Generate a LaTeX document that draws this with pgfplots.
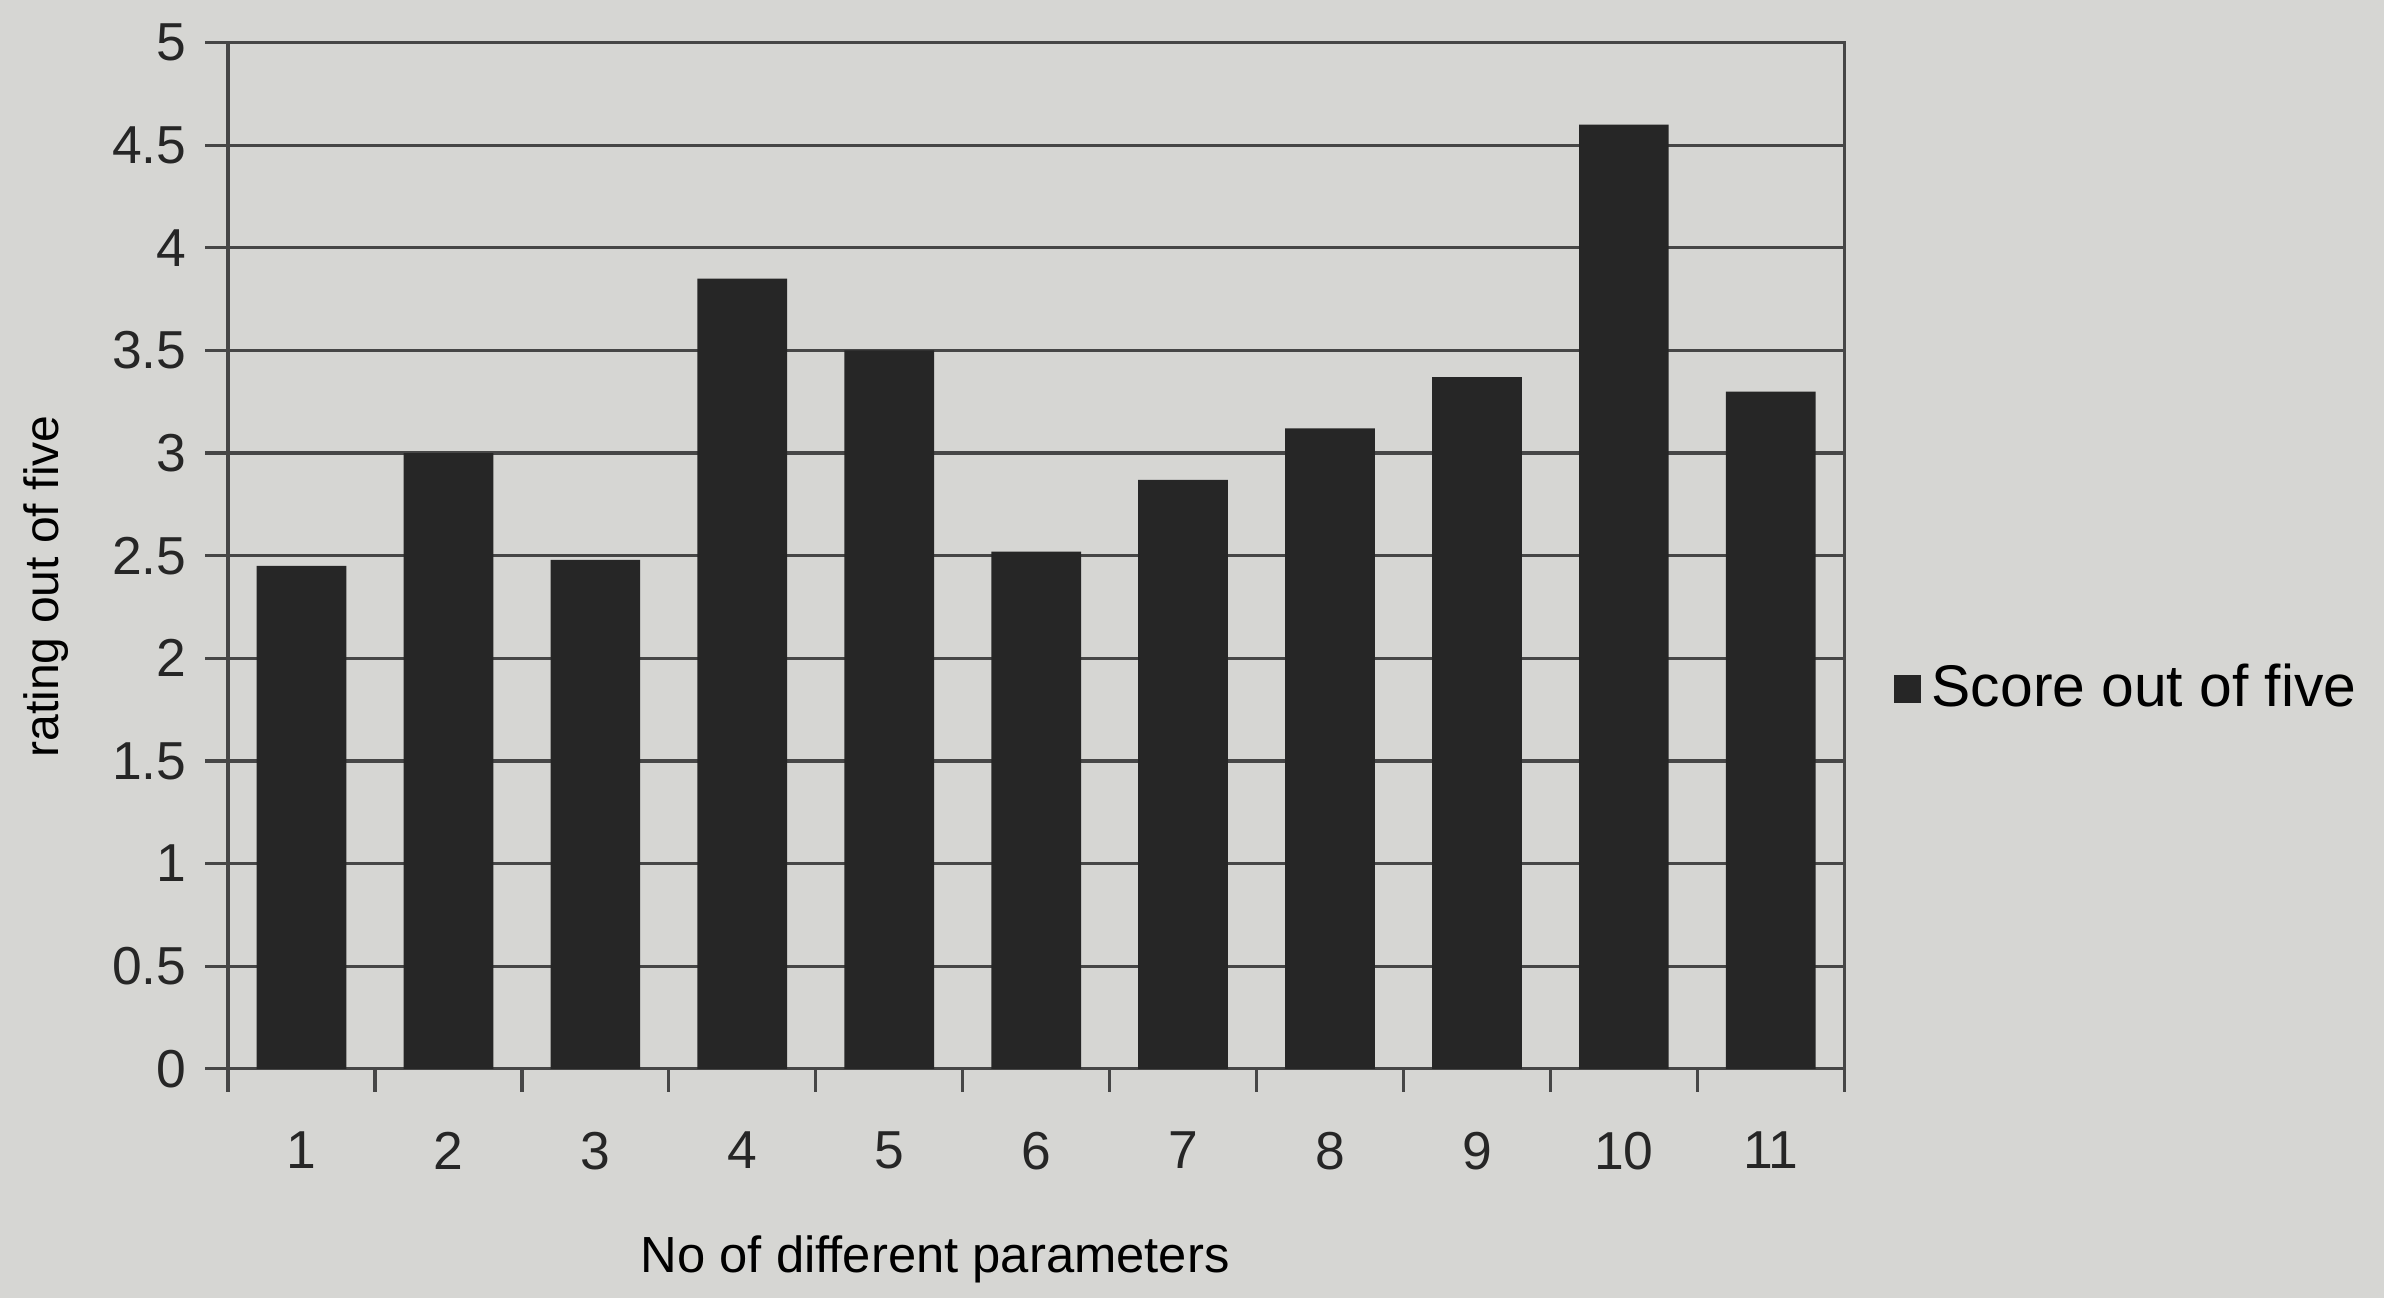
\documentclass[border=0pt]{standalone}
\usepackage{fontspec}
\setmainfont{Liberation Sans}
\usepackage{pgfplots}
\pgfplotsset{compat=1.18}
\definecolor{paper}{RGB}{214,214,211}
\definecolor{barcol}{RGB}{38,38,38}
\definecolor{gridcol}{RGB}{70,70,70}
\begin{document}
\begin{tikzpicture}
\useasboundingbox[fill=paper] (-1.5cm,-1.51cm) rectangle (14.18cm,7.03cm);
\begin{axis}[
  at={(0,0)}, anchor=south west,
  scale only axis, width=10.63cm, height=6.75cm,
  ybar, bar width=0.59cm,
  xmin=0.5, xmax=11.5, ymin=0, ymax=5,
  ytick={0,0.5,...,5},
  ymajorgrids, grid style={gridcol, line width=0.6pt},
  axis line style={gridcol, line width=0.6pt},
  xtick={1,...,11},
  minor xtick={0.5,1.5,...,11.5},
  major x tick style={draw=none},
  minor x tick style={gridcol, line width=0.6pt},
  y tick style={gridcol, line width=0.6pt},
  tick align=outside, tick pos=left,
  major tick length=0.15cm, minor tick length=0.15cm,
  /pgf/number format/assume math mode=true,
  yticklabel style={/pgf/number format/fixed, font=\fontsize{10}{12}\selectfont, text=black!85},
  xticklabel style={font=\fontsize{10}{12}\selectfont, text=black!85, yshift=-4pt},
  xlabel={No of different parameters},
  ylabel={rating out of five},
  xlabel style={font=\fontsize{9.5}{11}\selectfont, at={(axis description cs:0.4375,0)}, anchor=center, yshift=-1.25cm},
  ylabel style={font=\fontsize{9}{11}\selectfont, at={(axis description cs:0,0.47)}, anchor=center, yshift=1.2cm},
  legend style={at={(1.02,0.37)}, anchor=west, draw=none, fill=none, font=\fontsize{11}{13}\selectfont},
  legend image code/.code={\fill[barcol] (0cm,-0.09cm) rectangle (0.18cm,0.09cm);},
]
\addplot[fill=barcol, draw=none] coordinates {
  (1,2.45) (2,3.0) (3,2.48) (4,3.85) (5,3.5) (6,2.52)
  (7,2.87) (8,3.12) (9,3.37) (10,4.6) (11,3.3)
};
\addlegendentry{Score out of five}
\end{axis}
\end{tikzpicture}
\end{document}
